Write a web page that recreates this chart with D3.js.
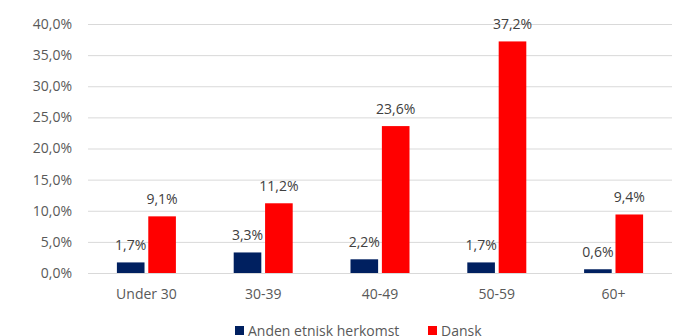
<!DOCTYPE html>
<html>
<head>
<meta charset="utf-8">
<script src="https://cdn.jsdelivr.net/npm/d3@7"></script>
<style>
  body { margin: 0; background: #fff; }
  text { font-family: "Open Sans", sans-serif; }
</style>
</head>
<body>
<div id="chart"></div>
<script>
var categories = ["Under 30", "30-39", "40-49", "50-59", "60+"];
var seriesNames = ["Anden etnisk herkomst", "Dansk"];
var anden = [1.7, 3.3, 2.2, 1.7, 0.6];
var dansk = [9.1, 11.2, 23.6, 37.2, 9.4];
var yTicks = [0, 5, 10, 15, 20, 25, 30, 35, 40];
var colors = ["#002060", "#ff0000"];

var width = 694, height = 336;
var plotLeft = 88, plotRight = 672, plotTop = 24, plotBottom = 273;

var fmt = function (v) { return v.toFixed(1).replace(".", ",") + "%"; };

var svg = d3.select("#chart")
    .append("svg")
    .attr("width", width)
    .attr("height", height);

var x = d3.scaleBand()
    .domain(categories)
    .range([plotLeft, plotRight]);

var inner = d3.scaleBand()
    .domain(seriesNames)
    .range([0, 59])
    .paddingInner(0.12);

var y = d3.scaleLinear()
    .domain([0, 40])
    .range([plotBottom, plotTop]);

// gridlines
svg.append("g")
    .selectAll("line")
    .data(yTicks)
    .enter()
    .append("line")
    .attr("x1", plotLeft)
    .attr("x2", plotRight)
    .attr("y1", (d) => y(d) + 0.5)
    .attr("y2", (d) => y(d) + 0.5)
    .style("stroke", "#d9d9d9")
    .style("stroke-width", 1);

// y axis labels
var yAxis = d3.axisLeft(y)
    .tickValues(yTicks)
    .tickSize(0)
    .tickPadding(16)
    .tickFormat(fmt);

svg.append("g")
    .attr("transform", "translate(" + plotLeft + ",0)")
    .call(yAxis)
    .call((g) => g.select(".domain").remove())
    .selectAll("text")
    .style("font-size", "14px")
    .style("fill", "#595959");

// x axis labels
var xAxis = d3.axisBottom(x).tickSize(0).tickPadding(16);
svg.append("g")
    .attr("transform", "translate(0," + plotBottom + ")")
    .call(xAxis)
    .call((g) => g.select(".domain").remove())
    .selectAll("text")
    .style("font-size", "14px")
    .style("fill", "#595959");

var rows = categories.map((c, i) => ({ cat: c, vals: [anden[i], dansk[i]] }));

var groups = svg.selectAll(".grp")
    .data(rows)
    .enter()
    .append("g")
    .attr("class", "grp")
    .attr("transform", (d) => "translate(" + (x(d.cat) + x.bandwidth() / 2 - 29.5) + ",0)");

groups.selectAll("rect")
    .data((d) => d.vals.map((v, j) => ({ v: v, s: seriesNames[j], j: j })))
    .enter()
    .append("rect")
    .attr("x", (d) => inner(d.s))
    .attr("y", (d) => y(d.v))
    .attr("width", inner.bandwidth())
    .attr("height", (d) => y(0) - y(d.v))
    .style("fill", (d) => colors[d.j]);

groups.selectAll(".lbl")
    .data((d) => d.vals.map((v, j) => ({ v: v, s: seriesNames[j], j: j })))
    .enter()
    .append("text")
    .attr("class", "lbl")
    .attr("x", (d) => inner(d.s) + inner.bandwidth() / 2)
    .attr("y", (d) => y(d.v) - 12)
    .attr("text-anchor", "middle")
    .style("font-size", "14px")
    .style("fill", "#404040")
    .text((d) => fmt(d.v));

// legend
var legendX = [235, 428];
var legend = svg.selectAll(".leg")
    .data(seriesNames)
    .enter()
    .append("g")
    .attr("class", "leg")
    .attr("transform", (d, i) => "translate(" + legendX[i] + ",326)");

legend.append("rect")
    .attr("width", 9)
    .attr("height", 9)
    .style("fill", (d, i) => colors[i]);

legend.append("text")
    .attr("x", 13)
    .attr("y", 10)
    .style("font-size", "14px")
    .style("fill", "#595959")
    .text((d) => d);
</script>
</body>
</html>
